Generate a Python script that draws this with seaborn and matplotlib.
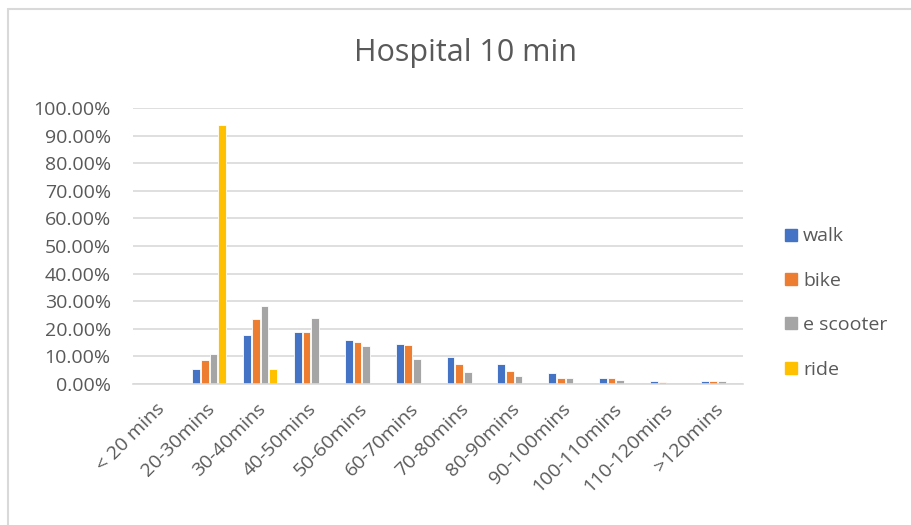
import matplotlib
matplotlib.use("Agg")
import matplotlib.pyplot as plt
from matplotlib.lines import Line2D
from matplotlib.transforms import ScaledTranslation
from matplotlib.ticker import PercentFormatter, MultipleLocator
import pandas as pd
import seaborn as sns

categories = ["< 20 mins", "20-30mins", "30-40mins", "40-50mins", "50-60mins",
              "60-70mins", "70-80mins", "80-90mins", "90-100mins",
              "100-110mins", "110-120mins", ">120mins"]
walk = [0.000, 0.053, 0.177, 0.188, 0.159, 0.146, 0.099, 0.071, 0.040, 0.022, 0.012, 0.012]
bike = [0.000, 0.086, 0.234, 0.188, 0.151, 0.141, 0.072, 0.048, 0.020, 0.022, 0.008, 0.012]
e_scooter = [0.000, 0.108, 0.284, 0.239, 0.136, 0.090, 0.045, 0.029, 0.020, 0.016, 0.000, 0.012]
ride = [0.000, 0.939, 0.053, 0.000, 0.000, 0.000, 0.000, 0.000, 0.000, 0.000, 0.000, 0.000]
series_names = ["walk", "bike", "e scooter", "ride"]
colors = ["#4472C4", "#ED7D31", "#A5A5A5", "#FFC000"]

rows = []
for name, vals in zip(series_names, [walk, bike, e_scooter, ride]):
    for cat, v in zip(categories, vals):
        rows.append({"time": cat, "mode": name, "share": v})
df = pd.DataFrame(rows)

sns.set_theme(style="white")
plt.rcParams["font.family"] = ["Open Sans", "DejaVu Sans"]
text_color = "#595959"
grid_color = "#D9D9D9"

W, H = 911, 525
fig = plt.figure(figsize=(W / 100, H / 100), dpi=100)
ax = fig.add_axes([133 / W, (H - 384) / H, (743 - 133) / W, (384 - 108) / H])

sns.barplot(data=df, x="time", y="share", hue="mode", order=categories,
            hue_order=series_names, palette=colors, saturation=1,
            width=0.68, gap=0.1, edgecolor="white", linewidth=0.6,
            ax=ax, legend=False)

ax.set_ylim(0, 1.0)
ax.set_xlim(-0.5, len(categories) - 0.5)
ax.yaxis.set_major_locator(MultipleLocator(0.1))
ax.yaxis.set_major_formatter(PercentFormatter(1.0, decimals=2))
ax.yaxis.grid(True, color=grid_color, linewidth=1.2)
ax.set_axisbelow(True)
for side in ["top", "right", "left"]:
    ax.spines[side].set_visible(False)
ax.spines["bottom"].set_color(grid_color)
ax.spines["bottom"].set_linewidth(1.2)
ax.set_xlabel("")
ax.set_ylabel("")
ax.tick_params(axis="both", length=0, colors=text_color, labelsize=14)
ax.tick_params(axis="y", pad=16)
ax.tick_params(axis="x", pad=0)

# slanted category labels, right end just under each group
shift = ScaledTranslation(0.03, -0.22, fig.dpi_scale_trans)
for lab in ax.get_xticklabels():
    lab.set_rotation(45)
    lab.set_ha("right")
    lab.set_va("center")
    lab.set_rotation_mode("anchor")
    lab.set_transform(lab.get_transform() + shift)

fig.text(465 / W, 1 - 53 / H, "Hospital 10 min", ha="center", va="center",
         fontsize=22, color=text_color)

handles = [Line2D([0], [0], marker="s", linestyle="none", markersize=9,
                  markerfacecolor=c, markeredgecolor=c) for c in colors]
fig.legend(handles, series_names, loc="center left",
           bbox_to_anchor=(764 / W, 1 - 303 / H), frameon=False,
           fontsize=14, labelcolor=text_color, labelspacing=1.36,
           handletextpad=0.1, handlelength=1.0)

# light frame along the top and left edge
fig.add_artist(Line2D([8 / W, 1.0], [1 - 9 / H, 1 - 9 / H], color=grid_color,
                      linewidth=1.5, transform=fig.transFigure))
fig.add_artist(Line2D([8 / W, 8 / W], [0, 1 - 9 / H], color=grid_color,
                      linewidth=1.5, transform=fig.transFigure))

fig.savefig("out.png", dpi=100, facecolor="white")
